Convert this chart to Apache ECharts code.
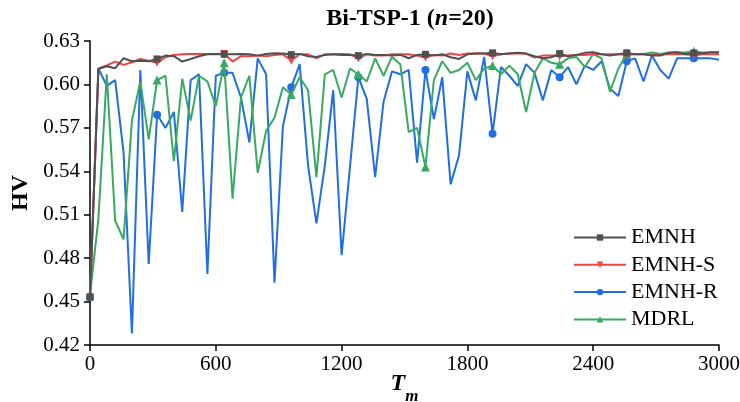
<!DOCTYPE html>
<html>
<head>
<meta charset="utf-8">
<script src="https://cdn.jsdelivr.net/npm/echarts@6/dist/echarts.min.js"></script>
<style>html,body{margin:0;padding:0;background:#fff}#c{width:740px;height:402px}</style>
</head>
<body>
<div id="c"></div>
<script>
var Tm = [0,40,80,120,160,200,240,280,320,360,400,440,480,520,560,600,640,680,720,760,
800,840,880,920,960,1000,1040,1080,1120,1160,1200,1240,1280,1320,1360,1400,1440,1480,1520,1560,
1600,1640,1680,1720,1760,1800,1840,1880,1920,1960,2000,2040,2080,2120,2160,2200,2240,2280,2320,2360,
2400,2440,2480,2520,2560,2600,2640,2680,2720,2760,2800,2840,2880,2920,2960,3000];

var EMNH = [0.453,0.6108,0.6126,0.6112,0.6181,0.6160,0.6163,0.6160,0.6176,0.6199,
0.6195,0.6158,0.6176,0.6195,0.6208,0.6211,0.6208,0.6208,0.6211,0.6208,
0.6199,0.6211,0.6215,0.6213,0.6206,0.6211,0.6195,0.6190,0.6204,0.6208,
0.6204,0.6204,0.6199,0.6211,0.6204,0.6204,0.6199,0.6204,0.6181,0.6204,
0.6208,0.6199,0.6208,0.6188,0.6176,0.6208,0.6213,0.6213,0.6218,0.6208,
0.6213,0.6218,0.6213,0.6195,0.6181,0.6188,0.6213,0.6195,0.6204,0.6218,
0.6222,0.6208,0.6199,0.6208,0.6218,0.6208,0.6208,0.6199,0.6199,0.6218,
0.6222,0.6208,0.6218,0.6213,0.6222,0.6222];

var EMNH_S = [0.453,0.6108,0.6131,0.6158,0.6135,0.6153,0.6176,0.6163,0.6149,0.6188,
0.6204,0.6208,0.6211,0.6211,0.6211,0.6211,0.6211,0.6158,0.6195,0.6195,
0.6199,0.6195,0.6204,0.6208,0.6163,0.6208,0.6208,0.6181,0.6208,0.6208,
0.6211,0.6208,0.6181,0.6208,0.6199,0.6199,0.6208,0.6208,0.6208,0.6199,
0.6186,0.6204,0.6199,0.6213,0.6204,0.6213,0.6213,0.6213,0.6195,0.6208,
0.6213,0.6213,0.6213,0.6186,0.6199,0.6199,0.6195,0.6199,0.6204,0.6204,
0.6208,0.6208,0.6208,0.6208,0.6204,0.6208,0.6208,0.6204,0.6208,0.6208,
0.6208,0.6208,0.6199,0.6208,0.6208,0.6208];

var EMNH_R = [0.453,0.611,0.599,0.603,0.553,0.428,0.610,0.476,0.579,0.570,
0.581,0.512,0.603,0.607,0.469,0.606,0.608,0.608,0.591,0.560,
0.618,0.607,0.463,0.571,0.598,0.614,0.544,0.504,0.544,0.596,
0.482,0.543,0.605,0.590,0.536,0.588,0.609,0.607,0.610,0.546,
0.610,0.576,0.605,0.531,0.551,0.609,0.589,0.619,0.566,0.612,
0.606,0.599,0.614,0.608,0.589,0.610,0.605,0.612,0.600,0.613,
0.610,0.616,0.597,0.592,0.616,0.618,0.602,0.620,0.610,0.604,
0.618,0.618,0.618,0.618,0.618,0.617];

var MDRL = [0.455,0.507,0.607,0.506,0.493,0.575,0.602,0.562,0.603,0.606,
0.547,0.604,0.575,0.606,0.602,0.585,0.615,0.521,0.591,0.606,
0.539,0.568,0.577,0.598,0.593,0.605,0.596,0.536,0.607,0.610,
0.591,0.611,0.607,0.602,0.618,0.606,0.619,0.614,0.567,0.570,
0.543,0.603,0.616,0.608,0.610,0.615,0.603,0.611,0.613,0.607,
0.613,0.607,0.581,0.608,0.618,0.615,0.614,0.618,0.619,0.612,
0.621,0.618,0.595,0.611,0.621,0.621,0.621,0.622,0.621,0.622,
0.622,0.622,0.623,0.622,0.622,0.622];

var yTicks = [0.42,0.45,0.48,0.51,0.54,0.57,0.60,0.63];
var xTicks = [0,600,1200,1800,2400,3000];

function pairs(ys){ return Tm.map(function(x,i){ return [x, ys[i]]; }); }
function markEvery(size){ return function(v, p){ return p.dataIndex % 8 === 0 ? size : 0; }; }

var FONT = '"Liberation Serif", "Times New Roman", Times, serif';
var LBL = {fontFamily: FONT, fontSize: 21, color: '#000'};
var chart = echarts.init(document.getElementById('c'), null, {renderer:'canvas'});

function mk(name, ys, color, symbol, size, z){
  return {
    name: name, type: 'line', data: pairs(ys), z: z,
    showAllSymbol: true, symbol: symbol, symbolSize: markEvery(size),
    lineStyle: {color: color, width: 2},
    itemStyle: {color: color, borderWidth: 0},
    emphasis: {disabled: true}, animation: false
  };
}

chart.setOption({
  animation: false,
  textStyle: {fontFamily: FONT},
  title: {
    text: '{b|Bi-TSP-1 (}{i|n}{b|=20)}',
    left: 405, textAlign: 'center', top: 2,
    textStyle: {
      fontFamily: FONT,
      rich: {
        b: {fontFamily: FONT, fontWeight: 'bold', fontSize: 24, color: '#000'},
        i: {fontFamily: FONT, fontWeight: 'bold', fontStyle: 'italic', fontSize: 24, color: '#000'}
      }
    }
  },
  grid: {left: 90, right: 21, top: 41, bottom: 57, containLabel: false, outerBoundsMode: 'none'},
  legend: {
    orient: 'vertical', left: 568, top: 221.5,
    itemWidth: 52, itemHeight: 8, itemGap: 5.3,
    formatter: function(n){ return '{a|' + n + '}'; },
    textStyle: {fontFamily: FONT, fontSize: 22, lineHeight: 22, color: '#000',
      rich: {a: {fontFamily: FONT, fontSize: 22, lineHeight: 22, color: '#000'}}},
    data: ['EMNH','EMNH-S','EMNH-R','MDRL']
  },
  xAxis: {
    type: 'value', min: 0, max: 3000, interval: 600,
    name: '{t|T}{m|m}', nameLocation: 'middle', nameGap: 27, nameMoveOverlap: false,
    nameTextStyle: {
      fontFamily: FONT, verticalAlign: 'top',
      rich: {
        t: {fontFamily: FONT, fontWeight: 'bold', fontStyle: 'italic', fontSize: 24, lineHeight: 24, verticalAlign: 'top', color: '#000'},
        m: {fontFamily: FONT, fontWeight: 'bold', fontStyle: 'italic', fontSize: 17, lineHeight: 16, padding: [16, 0, 0, 0], verticalAlign: 'top', color: '#000'}
      }
    },
    axisLine: {show: true, lineStyle: {color: '#000', width: 1.5}},
    axisTick: {show: true, length: 6, lineStyle: {color: '#000', width: 1.5}},
    axisLabel: {fontFamily: FONT, fontSize: 21, color: '#000', margin: 9,
      rich: {a: LBL},
      formatter: function(v){ return xTicks.indexOf(v) >= 0 ? '{a|' + v + '}' : ''; }},
    splitLine: {show: false}
  },
  yAxis: {
    type: 'value', min: 0.42, max: 0.63, interval: 0.03,
    name: 'HV', nameLocation: 'middle', nameGap: 57, nameRotate: 90, nameMoveOverlap: false,
    nameTextStyle: {fontFamily: FONT, fontWeight: 'bold', fontSize: 24, color: '#000'},
    axisLine: {show: true, lineStyle: {color: '#000', width: 1.5}},
    axisTick: {show: true, length: 6, lineStyle: {color: '#000', width: 1.5}},
    axisLabel: {fontFamily: FONT, fontSize: 21, color: '#000', margin: 10,
      rich: {a: LBL},
      formatter: function(v){
        var s = v.toFixed(2);
        return yTicks.some(function(t){ return t.toFixed(2) === s; }) ? '{a|' + s + '}' : '';
      }},
    splitLine: {show: false}
  },
  series: [
    mk('EMNH', EMNH, '#505050', 'rect', 7, 5),
    mk('EMNH-S', EMNH_S, '#f04545', 'path://M0,0 L10,0 L5,9 Z', 8, 4),
    mk('EMNH-R', EMNH_R, '#1f6fe3', 'circle', 8, 2),
    mk('MDRL', MDRL, '#37a961', 'triangle', 9, 3)
  ]
});
</script>
</body>
</html>
